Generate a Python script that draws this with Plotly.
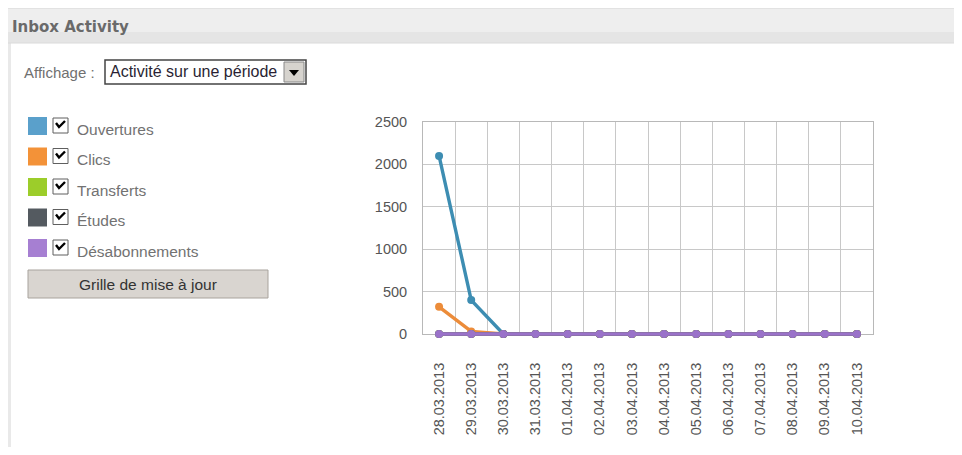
import plotly.graph_objects as go

# Page body has an 8px default margin on every side
OFF = 8
W, H = 962 - 2 * OFF, 455 - 2 * OFF

dates = ["28.03.2013", "29.03.2013", "30.03.2013", "31.03.2013", "01.04.2013",
         "02.04.2013", "03.04.2013", "04.04.2013", "05.04.2013", "06.04.2013",
         "07.04.2013", "08.04.2013", "09.04.2013", "10.04.2013"]
ouvertures = [2100, 400, 0, 0, 0, 0, 0, 0, 0, 0, 0, 0, 0, 0]
clics = [320, 30, 0, 0, 0, 0, 0, 0, 0, 0, 0, 0, 0, 0]
transferts = [0, 0, 0, 0, 0, 0, 0, 0, 0, 0, 0, 0, 0, 0]
etudes = [0, 0, 0, 0, 0, 0, 0, 0, 0, 0, 0, 0, 0, 0]
desabonnements = [0, 0, 0, 0, 0, 0, 0, 0, 0, 0, 0, 0, 0, 0]

series_names = ["Ouvertures", "Clics", "Transferts", "Études", "Désabonnements"]
series_values = [ouvertures, clics, transferts, etudes, desabonnements]
line_colors = ["#3d8db2", "#ec8c3a", "#96c828", "#555b61", "#9a72c9"]
legend_colors = ["#5aa0cb", "#f39238", "#9ccd2a", "#545a60", "#a67fd2"]
y_ticks = [0, 500, 1000, 1500, 2000, 2500]
y_max = 2500


def px(x):
    return (x - OFF) / W


def py(y):
    return 1 - (y - OFF) / H


PLOT_L, PLOT_R, PLOT_T, PLOT_B = 423, 873, 122, 334
EXT = 8  # extra pixels below the data area so the zero line is not clipped
y2_min = -y_max * EXT / (PLOT_B - PLOT_T)

fig = go.Figure()
# invisible carrier trace for the visible axes
fig.add_trace(go.Scatter(x=dates, y=ouvertures, mode="lines", line=dict(width=0),
                         hoverinfo="skip", showlegend=False))
for name, vals, col in zip(series_names, series_values, line_colors):
    fig.add_trace(go.Scatter(
        x=dates, y=vals, name=name, mode="lines+markers",
        line=dict(color=col, width=3.4),
        marker=dict(color=col, size=8),
        xaxis="x2", yaxis="y2",
        cliponaxis=False, showlegend=False))

shapes = []
annotations = []

# Panel header bar
shapes.append(dict(type="rect", xref="paper", yref="paper",
                   x0=px(8), x1=1, y0=py(32), y1=py(8),
                   fillcolor="#eeeeee", line=dict(width=0), layer="below"))
shapes.append(dict(type="rect", xref="paper", yref="paper",
                   x0=px(8), x1=1, y0=py(43), y1=py(32),
                   fillcolor="#e5e5e5", line=dict(width=0), layer="below"))
shapes.append(dict(type="line", xref="paper", yref="paper",
                   x0=px(8), x1=1, y0=py(8.5), y1=py(8.5),
                   line=dict(color="#e2e2e2", width=1)))
shapes.append(dict(type="line", xref="paper", yref="paper",
                   x0=px(8), x1=1, y0=py(43), y1=py(43),
                   line=dict(color="#dadada", width=1)))
# Left panel border
shapes.append(dict(type="rect", xref="paper", yref="paper",
                   x0=px(8), x1=px(11), y0=0, y1=py(43),
                   fillcolor="#e9e9e9", line=dict(width=0), layer="below"))
annotations.append(dict(text="<b>Inbox Activity</b>", xref="paper", yref="paper",
                        x=px(10), y=py(27), xanchor="left", yanchor="middle",
                        showarrow=False,
                        font=dict(family="DejaVu Sans", size=15, color="#6a6a6a")))

# Affichage select
annotations.append(dict(text="Affichage :", xref="paper", yref="paper",
                        x=px(22), y=py(73), xanchor="left", yanchor="middle",
                        showarrow=False,
                        font=dict(family="Liberation Sans", size=15, color="#707070")))
shapes.append(dict(type="rect", xref="paper", yref="paper",
                   x0=px(105), x1=px(306), y0=py(84), y1=py(60),
                   fillcolor="#ffffff", line=dict(color="#444444", width=1.5)))
annotations.append(dict(text="Activité sur une période", xref="paper", yref="paper",
                        x=px(108), y=py(72), xanchor="left", yanchor="middle",
                        showarrow=False,
                        font=dict(family="Liberation Sans", size=16, color="#2a1f33")))
shapes.append(dict(type="rect", xref="paper", yref="paper",
                   x0=px(284), x1=px(304), y0=py(82), y1=py(62),
                   fillcolor="#d6d3ce", line=dict(color="#888888", width=1)))
shapes.append(dict(type="path", xref="paper", yref="paper",
                   path="M %f %f L %f %f L %f %f Z" % (px(289), py(70), px(299), py(70), px(294), py(76)),
                   fillcolor="#000000", line=dict(width=0)))

# Custom legend
for i, (name, col) in enumerate(zip(series_names, legend_colors)):
    top = 117 + i * 30.5
    shapes.append(dict(type="rect", xref="paper", yref="paper",
                       x0=px(28), x1=px(47), y0=py(top + 18), y1=py(top),
                       fillcolor=col, line=dict(width=0)))
    shapes.append(dict(type="rect", xref="paper", yref="paper",
                       x0=px(53), x1=px(68), y0=py(top + 16), y1=py(top + 1),
                       fillcolor="#ffffff", line=dict(color="#5f5f5f", width=1)))
    shapes.append(dict(type="path", xref="paper", yref="paper",
                       path="M %f %f L %f %f L %f %f" % (px(56), py(top + 6), px(59), py(top + 10),
                                                          px(65), py(top + 4)),
                       line=dict(color="#000000", width=2.4)))
    annotations.append(dict(text=name, xref="paper", yref="paper",
                            x=px(75), y=py(top + 12), xanchor="left", yanchor="middle",
                            showarrow=False,
                            font=dict(family="Liberation Sans", size=15.5, color="#727272")))

# Button
shapes.append(dict(type="rect", xref="paper", yref="paper",
                   x0=px(28), x1=px(268), y0=py(298), y1=py(270),
                   fillcolor="#d9d5d0", line=dict(color="#a8a39d", width=1)))
annotations.append(dict(text="Grille de mise à jour", xref="paper", yref="paper",
                        x=px(148), y=py(284), xanchor="center", yanchor="middle",
                        showarrow=False,
                        font=dict(family="Liberation Sans", size=15.5, color="#333333")))

tick_font = dict(family="Liberation Sans", size=14.5, color="#555555")
fig.update_layout(
    width=W, height=H,
    margin=dict(l=0, r=0, t=0, b=0),
    paper_bgcolor="#ffffff", plot_bgcolor="rgba(0,0,0,0)",
    shapes=shapes, annotations=annotations,
    xaxis=dict(domain=[px(PLOT_L), px(PLOT_R)], type="category",
               categoryorder="array", categoryarray=dates,
               tickson="boundaries", tickangle=-90, ticks="",
               ticklabelstandoff=22, automargin=False,
               showgrid=True, gridcolor="#c8c8c8", gridwidth=1,
               showline=True, mirror=True, linecolor="#b8b8b8", linewidth=1,
               tickfont=tick_font,
               range=[-0.5, len(dates) - 0.5], fixedrange=True),
    yaxis=dict(domain=[py(PLOT_B), py(PLOT_T)], range=[0, y_max],
               tickvals=y_ticks, ticktext=[str(v) for v in y_ticks], ticks="",
               ticklabelstandoff=12, automargin=False,
               showgrid=True, gridcolor="#c8c8c8", gridwidth=1, zeroline=False,
               showline=True, mirror=True, linecolor="#b8b8b8", linewidth=1,
               tickfont=tick_font, fixedrange=True),
    xaxis2=dict(domain=[px(PLOT_L), px(PLOT_R)], type="category",
                categoryorder="array", categoryarray=dates,
                range=[-0.5, len(dates) - 0.5], anchor="y2",
                visible=False, fixedrange=True),
    yaxis2=dict(domain=[py(PLOT_B + EXT), py(PLOT_T)], range=[y2_min, y_max],
                anchor="x2", visible=False, fixedrange=True),
)

fig.write_html("out.html")
